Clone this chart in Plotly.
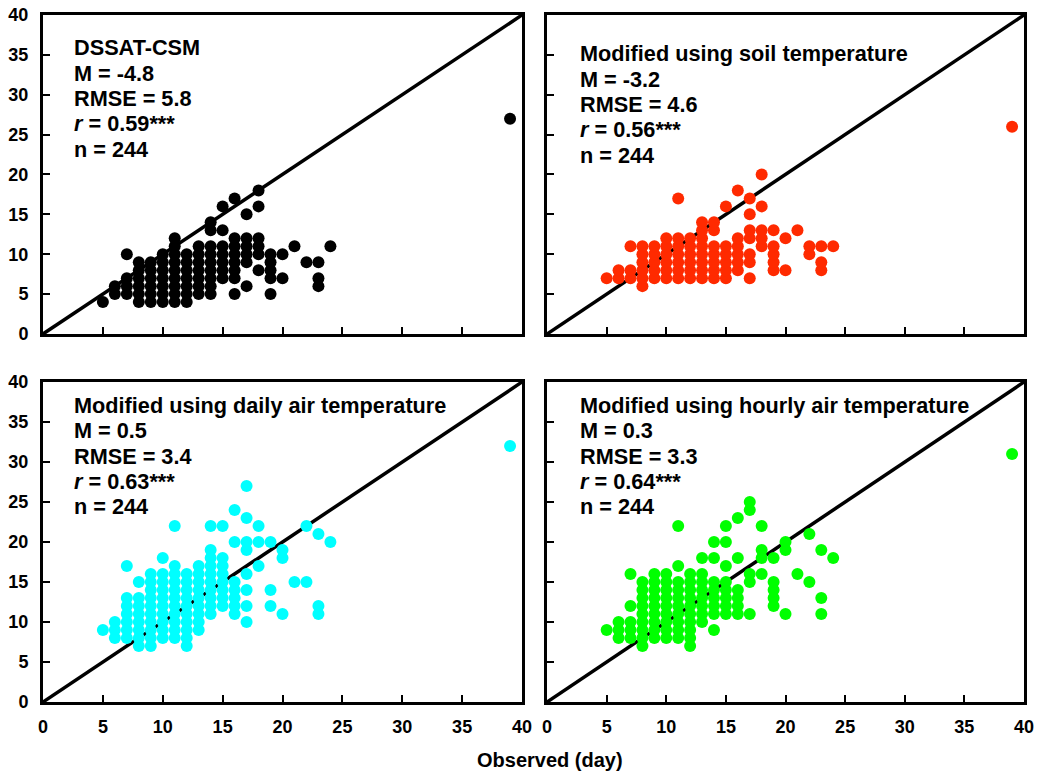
import plotly.graph_objects as go

# ---------------- data (observed day, simulated day) ----------------
AXIS_MAX = 40
tick_vals = [0, 5, 10, 15, 20, 25, 30, 35, 40]

pts_dssat = [(5,4),(6,5),(6,6),(7,5),(7,6),(7,7),(7,10),
    (8,4),(8,5),(8,6),(8,7),(8,8),(8,9),
    (9,4),(9,5),(9,6),(9,7),(9,8),(9,9),
    (10,4),(10,5),(10,6),(10,7),(10,8),(10,9),(10,10),
    (11,4),(11,5),(11,6),(11,7),(11,8),(11,9),(11,10),(11,11),(11,12),
    (12,4),(12,5),(12,6),(12,7),(12,8),(12,9),(12,10),
    (13,5),(13,6),(13,7),(13,8),(13,9),(13,10),(13,11),
    (14,5),(14,6),(14,7),(14,8),(14,9),(14,10),(14,11),(14,13),(14,14),
    (15,7),(15,8),(15,9),(15,10),(15,11),(15,13),(15,16),
    (16,5),(16,7),(16,8),(16,9),(16,10),(16,11),(16,12),(16,17),
    (17,6),(17,9),(17,10),(17,11),(17,12),(17,15),
    (18,8),(18,10),(18,11),(18,12),(18,16),(18,18),
    (19,5),(19,7),(19,8),(19,9),(19,10),
    (20,7),(20,10),(21,11),(22,9),(23,6),(23,7),(23,9),(24,11),(39,27)]

pts_soil = [(5,7),(6,7),(6,8),(7,7),(7,8),(7,11),
    (8,6),(8,7),(8,8),(8,9),(8,10),(8,11),
    (9,7),(9,8),(9,9),(9,10),(9,11),
    (10,7),(10,8),(10,9),(10,10),(10,11),(10,12),
    (11,7),(11,8),(11,9),(11,10),(11,11),(11,12),(11,17),
    (12,7),(12,8),(12,9),(12,10),(12,11),(12,12),
    (13,7),(13,8),(13,9),(13,10),(13,11),(13,12),(13,13),(13,14),
    (14,7),(14,8),(14,9),(14,10),(14,11),(14,13),(14,14),
    (15,7),(15,8),(15,9),(15,10),(15,11),(15,16),
    (16,8),(16,9),(16,10),(16,11),(16,12),(16,18),
    (17,7),(17,9),(17,10),(17,12),(17,13),(17,15),(17,17),
    (18,11),(18,12),(18,13),(18,16),(18,20),
    (19,8),(19,9),(19,10),(19,11),(19,13),
    (20,8),(20,12),(21,13),(22,10),(22,11),(23,8),(23,9),(23,11),(24,11),(39,26)]

pts_daily = [(5,9),(6,8),(6,9),(6,10),
    (7,8),(7,9),(7,10),(7,11),(7,12),(7,13),(7,17),
    (8,7),(8,8),(8,9),(8,10),(8,11),(8,12),(8,13),(8,15),
    (9,7),(9,8),(9,9),(9,10),(9,11),(9,12),(9,13),(9,14),(9,15),(9,16),
    (10,8),(10,9),(10,10),(10,11),(10,12),(10,13),(10,14),(10,15),(10,16),(10,18),
    (11,8),(11,9),(11,10),(11,11),(11,12),(11,13),(11,14),(11,15),(11,16),(11,17),(11,22),
    (12,7),(12,8),(12,9),(12,10),(12,11),(12,12),(12,13),(12,14),(12,15),(12,16),
    (13,9),(13,10),(13,11),(13,12),(13,13),(13,14),(13,15),(13,16),(13,17),
    (14,11),(14,12),(14,13),(14,14),(14,15),(14,16),(14,17),(14,18),(14,19),(14,22),
    (15,12),(15,13),(15,14),(15,15),(15,16),(15,17),(15,18),(15,22),
    (16,11),(16,12),(16,13),(16,14),(16,15),(16,20),(16,24),
    (17,10),(17,12),(17,14),(17,16),(17,19),(17,20),(17,23),(17,27),
    (18,17),(18,20),(18,22),
    (19,12),(19,14),(19,20),
    (20,11),(20,18),(20,19),(21,15),(22,15),(22,22),(23,11),(23,12),(23,21),(24,20),(39,32)]

pts_hourly = [(5,9),(6,8),(6,9),(6,10),
    (7,8),(7,9),(7,10),(7,12),(7,16),
    (8,7),(8,8),(8,9),(8,10),(8,11),(8,12),(8,13),(8,14),(8,15),
    (9,8),(9,9),(9,10),(9,11),(9,12),(9,13),(9,14),(9,15),(9,16),
    (10,8),(10,9),(10,10),(10,11),(10,12),(10,13),(10,14),(10,15),(10,16),
    (11,8),(11,9),(11,10),(11,11),(11,12),(11,13),(11,14),(11,15),(11,17),(11,22),
    (12,7),(12,8),(12,9),(12,10),(12,11),(12,12),(12,13),(12,14),(12,15),(12,16),
    (13,10),(13,11),(13,12),(13,13),(13,14),(13,15),(13,16),(13,18),
    (14,9),(14,11),(14,12),(14,13),(14,14),(14,15),(14,18),(14,20),
    (15,11),(15,12),(15,13),(15,14),(15,15),(15,17),(15,20),(15,22),
    (16,11),(16,12),(16,13),(16,14),(16,18),(16,23),
    (17,11),(17,15),(17,16),(17,24),(17,25),
    (18,16),(18,18),(18,19),(18,22),
    (19,12),(19,13),(19,14),(19,15),(19,18),
    (20,11),(20,19),(20,20),(21,16),(22,15),(22,21),(23,11),(23,13),(23,19),(24,18),(39,31)]

panel_titles = ["DSSAT-CSM", "Modified using soil temperature",
                "Modified using daily air temperature", "Modified using hourly air temperature"]
stat_M = ["-4.8", "-3.2", "0.5", "0.3"]
stat_RMSE = ["5.8", "4.6", "3.4", "3.3"]
stat_r = ["0.59", "0.56", "0.63", "0.64"]
stat_n = ["244", "244", "244", "244"]
colors = ["#000000", "#ff2a00", "#00ffff", "#00ff00"]
x_label = "Observed (day)"

# ---------------- figure ----------------
FONT = "Liberation Sans, Arial, sans-serif"
panels = [pts_dssat, pts_soil, pts_daily, pts_hourly]
xdom = [[0, 0.4883], [0.5138, 1]]
ydom = [[0.5357, 1], [0, 0.4658]]
text_x = [0.061, 0.065, 0.061, 0.065]
text_y0 = [0.897, 0.878, 0.926, 0.926]

fig = go.Figure()
anns = []
for i, pts in enumerate(panels):
    sfx = "" if i == 0 else str(i + 1)
    xa, ya = "x" + sfx, "y" + sfx
    fig.add_trace(go.Scatter(x=[0, AXIS_MAX], y=[0, AXIS_MAX], mode="lines",
                             line=dict(color="black", width=3.5),
                             xaxis=xa, yaxis=ya, showlegend=False, hoverinfo="skip"))
    fig.add_trace(go.Scatter(x=[p[0] for p in pts], y=[p[1] for p in pts], mode="markers",
                             marker=dict(color=colors[i], size=12, line=dict(width=0)),
                             xaxis=xa, yaxis=ya, showlegend=False))
    col, row = i % 2, i // 2
    axis_common = dict(range=[0, AXIS_MAX], tickvals=tick_vals, ticks="inside", ticklen=7,
                       tickwidth=2, tickcolor="black", showline=True, linewidth=3,
                       linecolor="black", mirror=True, showgrid=False, zeroline=False,
                       automargin=False, ticklabeloverflow="allow",
                       tickfont=dict(family=FONT, size=18, color="black", weight="bold"))
    fig.update_layout(**{
        "xaxis" + sfx: dict(domain=xdom[col], anchor=ya, showticklabels=(row == 1),
                            ticklabelstandoff=6, **axis_common),
        "yaxis" + sfx: dict(domain=ydom[row], anchor=xa, showticklabels=(col == 0),
                            ticklabelstandoff=8, **axis_common),
    })
    lines = [panel_titles[i], "M = " + stat_M[i], "RMSE = " + stat_RMSE[i],
             "<i>r</i> = " + stat_r[i] + "***", "n = " + stat_n[i]]
    ydomain_h = 319 if row == 0 else 320
    for k, t in enumerate(lines):
        anns.append(dict(text=t, xref=xa + " domain", yref=ya + " domain",
                         x=text_x[i], y=text_y0[i] - k * 25.3 / ydomain_h,
                         xanchor="left", yanchor="middle", showarrow=False,
                         font=dict(family=FONT, size=21.7, color="black", weight="bold")))

anns.append(dict(text=x_label, xref="paper", yref="paper", x=0.517, y=-0.085,
                 xanchor="center", yanchor="middle", showarrow=False,
                 font=dict(family=FONT, size=20, color="black", weight="bold")))

fig.update_layout(width=1041, height=774, autosize=False,
                  margin=dict(l=43, r=17, t=15, b=72),
                  paper_bgcolor="white", plot_bgcolor="white",
                  annotations=anns, showlegend=False)

# remove the default 8 px page margin so the figure fills the window exactly
fig.write_html("out.html", config={"displayModeBar": False},
               post_script="document.body.style.margin='0';document.body.style.overflow='hidden';")
